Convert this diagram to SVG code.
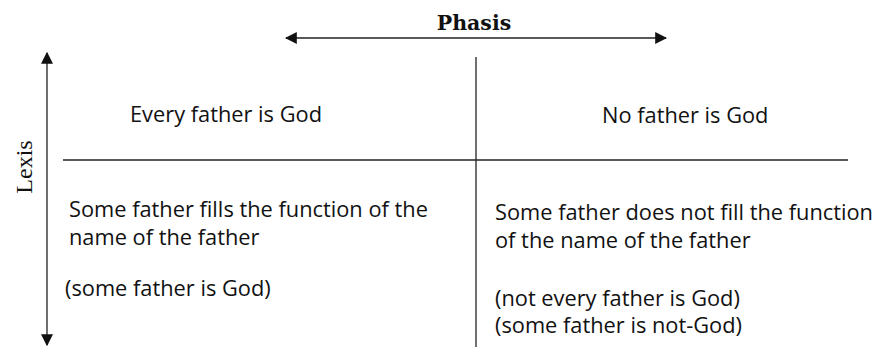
<svg xmlns="http://www.w3.org/2000/svg" width="875" height="347" viewBox="0 0 875 347">
<style>
.t{font-family:"Open Sans","Noto Sans",sans-serif;font-size:21.8px;fill:#111}
.ln{stroke:#222;stroke-width:1.3;fill:none}
</style>
<defs>
<marker id="ah" viewBox="0 0 10 10" refX="9" refY="5" markerWidth="12" markerHeight="12" markerUnits="userSpaceOnUse" orient="auto-start-reverse">
<path d="M0,0 L10,5 L0,10 z" fill="#111"/>
</marker>
</defs>
<rect width="875" height="347" fill="#fff"/>
<g id="connectors">
<line class="ln" x1="286" y1="38" x2="666" y2="38" marker-start="url(#ah)" marker-end="url(#ah)"/>
<line class="ln" x1="47" y1="53" x2="47" y2="345" marker-start="url(#ah)" marker-end="url(#ah)"/>
<line class="ln" x1="476" y1="57" x2="476" y2="347"/>
<line class="ln" x1="63" y1="160" x2="848" y2="160"/>
</g>
<g id="phasis"><text x="474" y="30" text-anchor="middle" font-family="'DejaVu Serif','Liberation Serif',serif" font-weight="bold" font-size="20.5" fill="#111">Phasis</text></g>
<g id="lexis"><text transform="translate(32,167) rotate(-90)" text-anchor="middle" font-family="'Liberation Serif',serif" font-size="24" fill="#111">Lexis</text></g>
<g id="n1"><text class="t" x="130" y="122">Every father is God</text></g>
<g id="n2"><text class="t" x="602" y="123">No father is God</text></g>
<g id="n3"><text class="t" x="69" y="217">Some father fills the function of the</text><text class="t" x="69" y="245">name of the father</text><text class="t" x="65" y="296">(some father is God)</text></g>
<g id="n4"><text class="t" x="495" y="220">Some father does not fill the function</text><text class="t" x="495" y="248">of the name of the father</text><text class="t" x="495" y="306">(not every father is God)</text><text class="t" x="495" y="333">(some father is not-God)</text></g>
</svg>
